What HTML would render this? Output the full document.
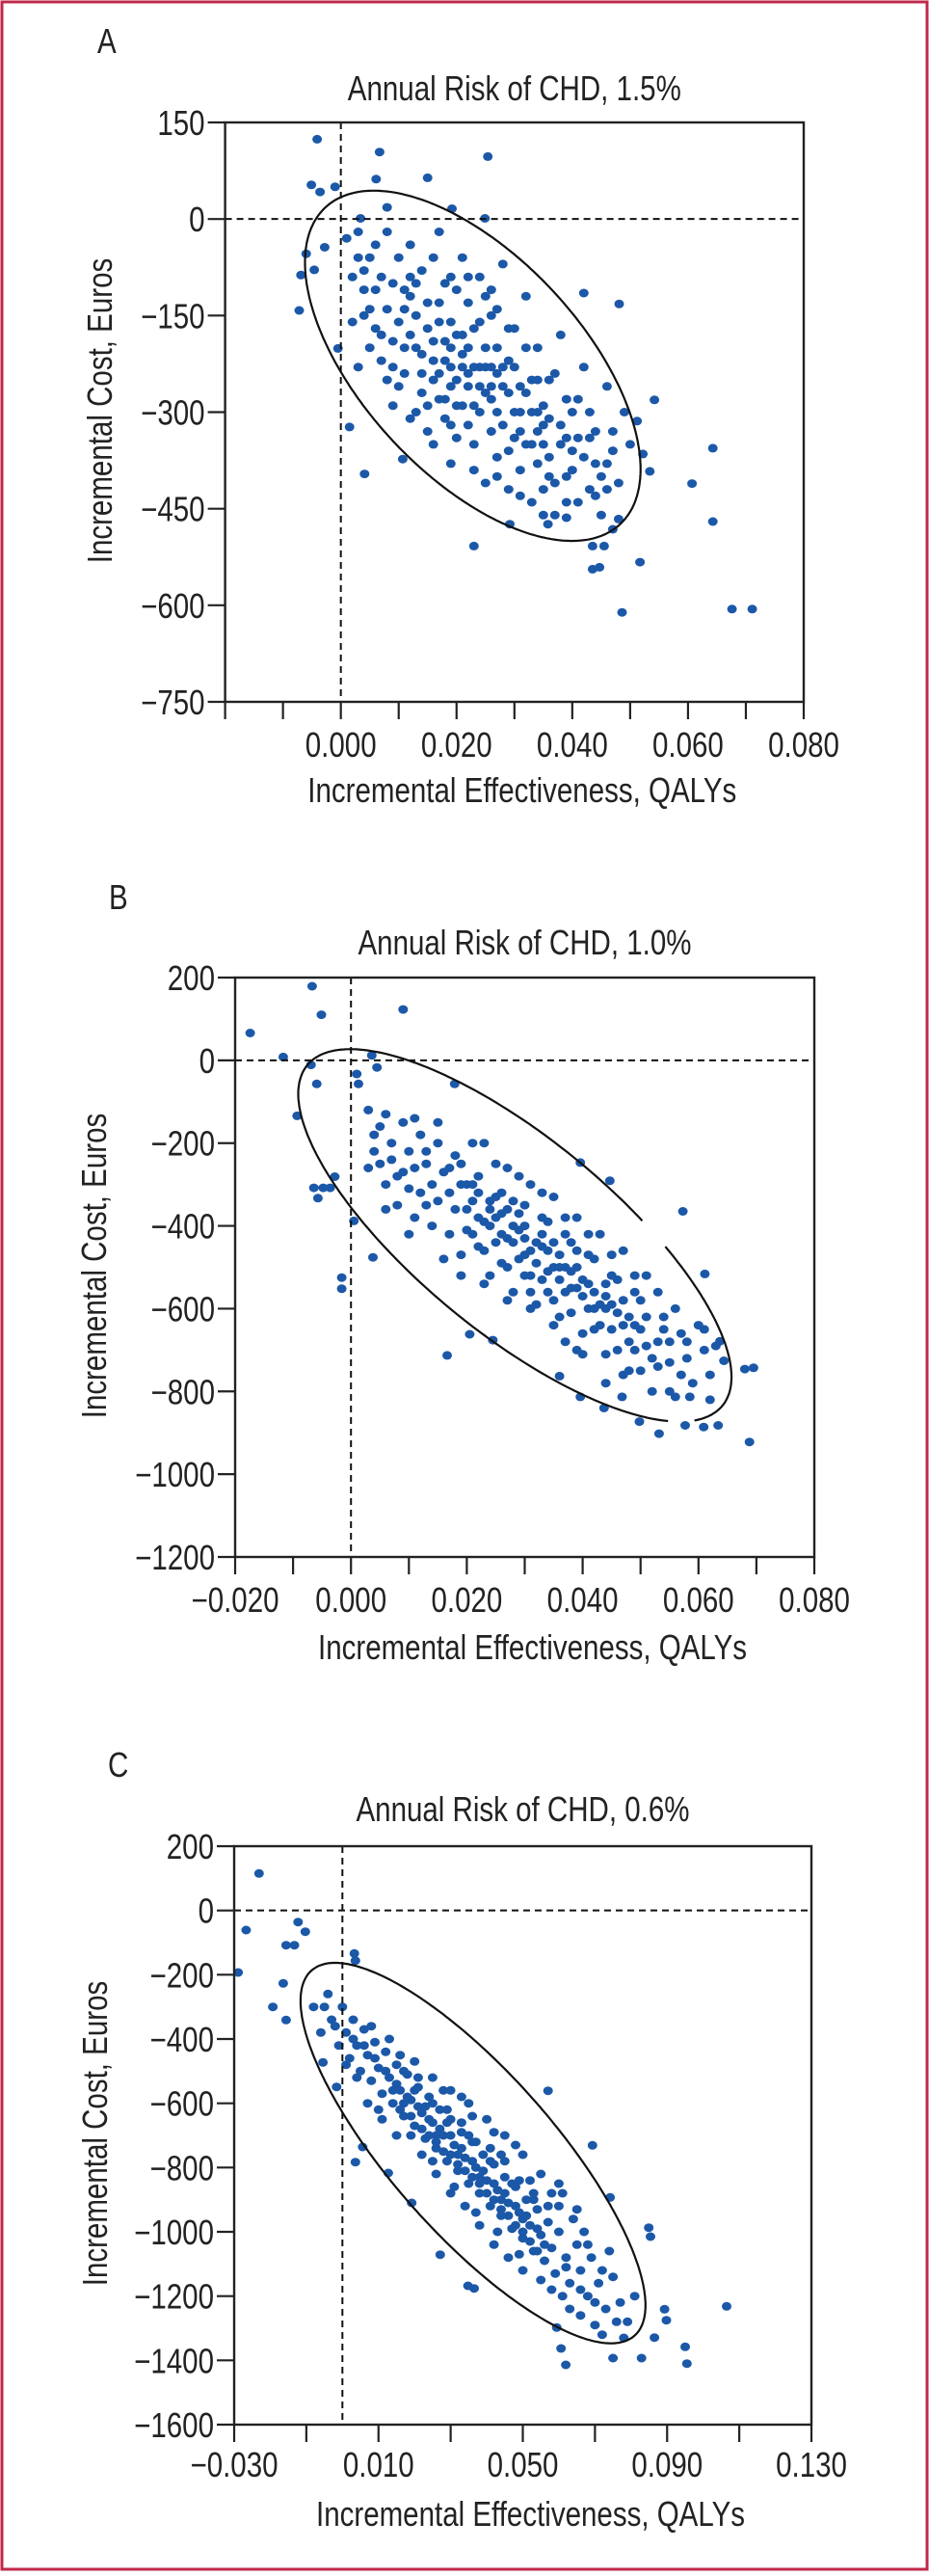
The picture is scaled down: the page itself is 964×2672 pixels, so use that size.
<!DOCTYPE html>
<html><head><meta charset="utf-8"><style>
html,body{margin:0;padding:0;background:#fff}
svg text{font-family:"Liberation Sans Narrow","Liberation Sans",sans-serif;fill:#222}
</style></head><body>
<svg id="fig" xmlns="http://www.w3.org/2000/svg" width="964" height="2667" viewBox="0 0 964 2667">
<rect x="2" y="2" width="960" height="2663" fill="none" stroke="#c0284a" stroke-width="3"/>
</svg>
<script>
const xTicksA=[-0.02,-0.01,0,0.01,0.02,0.03,0.04,0.05,0.06,0.07,0.08];
const xLabelsA=["0.000","0.020","0.040","0.060","0.080"];
const xLabelValsA=[0,0.02,0.04,0.06,0.08];
const yTicksA=[150,0,-150,-300,-450,-600,-750];
const yLabelsA=["150","0","\u2212150","\u2212300","\u2212450","\u2212600","\u2212750"];
const pointsA=[[-0.0041,124],[0.0067,104],[0.0254,97],[0.015,64],[0.0061,62],[-0.0051,53],[-0.0036,42],[-0.001,50],[0.0192,16],[0.0249,1],[0.008,18],[0.0034,1],[0.042,-115],[0.0481,-132],[0.0542,-281],[0.0643,-356],[0.0607,-411],[0.0643,-470],[0.0517,-533],[0.0435,-508],[0.0455,-508],[0.0435,-544],[0.0447,-541],[0.0486,-611],[0.0676,-606],[0.0711,-606],[0.023,-508],[0.0041,-396],[-0.0072,-142],[0.0534,-392],[0.0522,-365],[0.0512,-314],[0.048,-466],[0.047,-482],[0.039,-464],[0.0358,-474],[0.0292,-474],[0.0107,-373],[0.0015,-323],[-0.0005,-201],[-0.0069,-87],[-0.0046,-79],[-0.0028,-44],[-0.006,-54],
[0.001,-30],[0.003,-60],[0.004,-110],[0.002,-160],[0.005,-200],[0.006,-40],[0.007,-90],[0.008,-140],[0.006,-170],[0.009,-230],[0.010,-60],[0.011,-110],[0.012,-180],[0.010,-260],[0.013,-300],[0.012,-40],[0.014,-80],[0.015,-130],[0.014,-210],[0.016,-250],[0.015,-330],[0.017,-20],[0.018,-100],[0.017,-160],[0.019,-200],[0.018,-280],[0.020,-340],[0.019,-380],[0.021,-60],[0.022,-130],[0.021,-180],[0.023,-230],[0.022,-260],[0.024,-300],[0.023,-350],[0.025,-410],[0.024,-90],[0.026,-150],[0.025,-200],[0.027,-240],[0.026,-280],[0.028,-320],[0.027,-370],[0.029,-420],[0.028,-70],[0.030,-170],[0.029,-220],[0.031,-260],[0.030,-300],[0.032,-350],[0.031,-390],[0.033,-440],[0.032,-120],[0.034,-200],[0.033,-250],[0.035,-290],[0.034,-330],[0.036,-370],[0.035,-420],[0.037,-460],[0.038,-180],[0.037,-240],[0.039,-280],[0.038,-320],[0.040,-360],[0.039,-400],[0.041,-440],[0.042,-230],[0.043,-300],[0.041,-340],[0.044,-380],[0.043,-420],[0.045,-460],[0.046,-260],[0.047,-330],[0.046,-380],[0.048,-410],[0.049,-300],[0.050,-350],[0.016,-190],[0.018,-220],[0.020,-180],[0.020,-250],[0.022,-200],[0.024,-230],[0.026,-230],[0.019,-160],[0.017,-240],[0.021,-290],[0.025,-270],[0.027,-200],[0.023,-170],[0.013,-150],[0.011,-200],[0.009,-100],[0.007,-180],[0.004,-80],[0.003,-20],[0.008,-20],[0.012,-90],[0.016,-60],[0.020,-110],[0.024,-160],[0.028,-260],[0.031,-330],[0.033,-300],[0.035,-350],[0.029,-360],[0.026,-330],[0.022,-320],[0.018,-310],[0.014,-270],[0.011,-240],[0.008,-250],[0.005,-140],[0.036,-250],[0.040,-300],[0.042,-370],[0.044,-330],[0.037,-410],[0.034,-380],[0.030,-230],[0.027,-140],[0.025,-120],[0.021,-230],[0.019,-260],[0.015,-170],[0.012,-120],
[0.013,-200],[0.014,-240],[0.016,-220],[0.017,-280],[0.018,-190],[0.019,-230],[0.020,-290],[0.021,-210],[0.022,-240],[0.023,-290],[0.024,-260],[0.025,-230],[0.026,-260],[0.027,-300],[0.028,-230],[0.029,-270],[0.030,-340],[0.031,-300],[0.032,-270],[0.033,-350],[0.034,-300],[0.035,-320],[0.036,-400],[0.038,-350],[0.040,-390],[0.041,-280],[0.045,-400],[0.047,-360],[0.044,-430],[0.010,-160],[0.009,-190],[0.011,-140],[0.013,-100],[0.006,-110],[0.004,-150],[0.002,-90],[0.005,-60],[0.017,-130],[0.019,-90],[0.022,-90],[0.026,-110],[0.029,-170],[0.032,-200],[0.034,-250],[0.036,-310],[0.039,-340],[0.043,-340],[0.046,-420],[0.015,-290],[0.016,-350],[0.019,-320],[0.023,-390],[0.027,-400],[0.031,-430],[0.035,-460],[0.039,-440],[0.012,-310],[0.009,-290],[0.007,-220],[0.003,-230]];
const ellipseA=[0.0228,-228,0.029,272,-0.59];

const xTicksB=[-0.02,-0.01,0,0.01,0.02,0.03,0.04,0.05,0.06,0.07,0.08];
const xLabelsB=["\u22120.020","0.000","0.020","0.040","0.060","0.080"];
const xLabelValsB=[-0.02,0,0.02,0.04,0.06,0.08];
const yTicksB=[200,0,-200,-400,-600,-800,-1000,-1200];
const yLabelsB=["200","0","\u2212200","\u2212400","\u2212600","\u2212800","\u22121000","\u22121200"];
const pointsB=[[-0.0067,179],[-0.0051,110],[0.009,123],[-0.0174,66],[-0.0117,8],[-0.0069,-11],[-0.0059,-57],[-0.0093,-134],[-0.0064,-308],[-0.0048,-308],[-0.0036,-308],[-0.0057,-333],[-0.0028,-281],[-0.0016,-525],[-0.0016,-552],[0.0038,-476],[0.0005,-388],[0.0573,-365],[0.0611,-516],[0.0695,-743],[0.068,-746],[0.0634,-882],[0.0609,-886],[0.0577,-882],[0.0688,-922],[0.0532,-902],[0.0498,-873],[0.0166,-713],[0.0205,-662],[0.0245,-676],[0.036,-763],[0.0396,-813],[0.0437,-840],[0.0468,-813],[0.056,-813],[0.0585,-813],[0.0644,-726],[0.0637,-679],[0.0447,-291],[0.0396,-247],[0.0179,-57],[0.001,-33],[0.0045,-17],[0.0036,12],[0.0013,-57],
[0.003,-120],[0.004,-180],[0.005,-250],[0.006,-300],[0.006,-130],[0.007,-200],[0.008,-280],[0.008,-350],[0.009,-150],[0.010,-220],[0.010,-310],[0.011,-380],[0.012,-180],[0.013,-250],[0.012,-320],[0.014,-400],[0.015,-200],[0.016,-270],[0.015,-340],[0.017,-420],[0.016,-480],[0.018,-230],[0.019,-300],[0.018,-360],[0.020,-410],[0.019,-470],[0.021,-200],[0.022,-280],[0.021,-340],[0.023,-390],[0.022,-450],[0.024,-520],[0.025,-250],[0.026,-320],[0.025,-380],[0.027,-430],[0.026,-490],[0.028,-560],[0.029,-280],[0.030,-350],[0.029,-410],[0.031,-460],[0.030,-520],[0.032,-590],[0.033,-320],[0.034,-390],[0.033,-450],[0.035,-500],[0.034,-560],[0.036,-620],[0.037,-380],[0.038,-440],[0.037,-500],[0.039,-550],[0.038,-610],[0.040,-660],[0.041,-420],[0.042,-480],[0.041,-540],[0.043,-590],[0.042,-650],[0.044,-710],[0.045,-470],[0.046,-530],[0.045,-590],[0.047,-640],[0.046,-700],[0.048,-750],[0.049,-520],[0.050,-580],[0.049,-640],[0.051,-690],[0.050,-750],[0.052,-800],[0.053,-560],[0.054,-620],[0.053,-680],[0.055,-730],[0.056,-600],[0.057,-660],[0.058,-720],[0.059,-780],[0.060,-640],[0.061,-700],[0.062,-760],[0.063,-690],[0.020,-360],[0.022,-380],[0.024,-400],[0.026,-420],[0.028,-440],[0.030,-470],[0.032,-490],[0.034,-510],[0.036,-530],[0.038,-550],[0.040,-570],[0.042,-600],[0.024,-340],[0.027,-360],[0.030,-400],[0.033,-420],[0.036,-470],[0.039,-500],[0.023,-460],[0.027,-500],[0.031,-560],[0.035,-440],[0.039,-460],[0.044,-540],[0.047,-580],[0.043,-640],[0.040,-710],[0.037,-680],[0.048,-680],[0.051,-620],[0.011,-260],[0.014,-300],[0.017,-320],[0.013,-220],[0.009,-270],[0.007,-240],[0.004,-220],[0.019,-250],[0.028,-340],[0.031,-520],[0.035,-580],[0.044,-600],[0.055,-680],[0.057,-760],[0.052,-720],
[0.020,-300],[0.022,-320],[0.024,-360],[0.026,-370],[0.028,-400],[0.030,-430],[0.032,-440],[0.034,-460],[0.036,-500],[0.038,-510],[0.040,-530],[0.042,-560],[0.044,-570],[0.046,-610],[0.048,-620],[0.050,-650],[0.021,-420],[0.025,-440],[0.029,-480],[0.033,-530],[0.037,-560],[0.041,-600],[0.045,-650],[0.049,-700],[0.053,-740],[0.017,-260],[0.021,-300],[0.025,-330],[0.029,-370],[0.033,-380],[0.037,-420],[0.041,-470],[0.045,-520],[0.049,-560],[0.054,-650],[0.058,-680],[0.061,-650],[0.062,-820],[0.055,-800],[0.047,-760],[0.044,-780],[0.039,-700],[0.035,-640],[0.031,-600],[0.027,-580],[0.023,-540],[0.019,-520],[0.013,-350],[0.010,-420],[0.006,-360],[0.003,-260],[0.005,-160],[0.011,-140],[0.015,-150],[0.023,-200],[0.027,-260],[0.031,-300],[0.035,-330],[0.039,-380],[0.043,-420],[0.047,-460],[0.051,-520]];
const ellipseB=[0.0283,-423,0.0374,450,-0.76];
const gapsB=[[0.0519,-425],[0.0570,-846]];

const xTicksC=[-0.03,-0.01,0.01,0.03,0.05,0.07,0.09,0.11,0.13];
const xLabelsC=["\u22120.030","0.010","0.050","0.090","0.130"];
const xLabelValsC=[-0.03,0.01,0.05,0.09,0.13];
const yTicksC=[200,0,-200,-400,-600,-800,-1000,-1200,-1400,-1600];
const yLabelsC=["200","0","\u2212200","\u2212400","\u2212600","\u2212800","\u22121000","\u22121200","\u22121400","\u22121600"];
const pointsC=[[-0.0231,115],[-0.0267,-61],[-0.0289,-193],[-0.0123,-36],[-0.0103,-66],[-0.0156,-108],[-0.0133,-108],[-0.0164,-227],[-0.0193,-300],[-0.0156,-341],[0.0033,-134],[0.0036,-156],[0.0056,-736],[0.0036,-783],[0.057,-561],[0.0693,-731],[0.0742,-893],[0.0849,-987],[0.0854,-1015],[0.1065,-1232],[0.0893,-1241],[0.0898,-1275],[0.095,-1358],[0.0955,-1410],[0.0865,-1329],[0.0829,-1393],[0.075,-1393],[0.0619,-1414],[0.0606,-1363],[0.0594,-1298],[0.0271,-1071],[0.0348,-1168],[0.0365,-1176],[0.0192,-910],[0.0127,-817],[-0.0016,-549],[-0.0054,-473],
[-0.008,-300],[-0.006,-380],[-0.004,-260],[-0.003,-340],[-0.001,-420],[0.000,-300],[0.001,-380],[0.002,-460],[0.003,-340],[0.004,-420],[0.005,-500],[0.006,-370],[0.007,-450],[0.008,-530],[0.009,-410],[0.010,-490],[0.011,-570],[0.012,-440],[0.013,-520],[0.014,-600],[0.015,-480],[0.016,-560],[0.017,-640],[0.018,-510],[0.019,-590],[0.020,-670],[0.021,-550],[0.022,-630],[0.023,-710],[0.024,-580],[0.025,-660],[0.026,-740],[0.027,-620],[0.028,-700],[0.029,-780],[0.030,-650],[0.031,-730],[0.032,-810],[0.033,-690],[0.034,-770],[0.035,-850],[0.036,-720],[0.037,-800],[0.038,-880],[0.039,-760],[0.040,-840],[0.041,-920],[0.042,-790],[0.043,-870],[0.044,-950],[0.045,-830],[0.046,-910],[0.047,-990],[0.048,-860],[0.049,-940],[0.050,-1020],[0.051,-900],[0.052,-980],[0.053,-1060],[0.054,-930],[0.055,-1010],[0.056,-1090],[0.057,-970],[0.058,-1050],[0.059,-1130],[0.060,-1000],[0.062,-1080],[0.063,-1160],[0.065,-1040],[0.066,-1120],[0.068,-1200],[0.069,-1080],[0.071,-1160],[0.073,-1240],[0.075,-1140],[0.077,-1220],[0.079,-1280],[0.081,-1200],[0.015,-540],[0.018,-580],[0.021,-610],[0.024,-650],[0.027,-680],[0.030,-700],[0.033,-740],[0.036,-780],[0.039,-810],[0.042,-850],[0.045,-880],[0.048,-920],[0.051,-950],[0.054,-990],[0.012,-500],[0.016,-620],[0.020,-560],[0.023,-610],[0.026,-700],[0.029,-660],[0.032,-760],[0.035,-700],[0.038,-830],[0.041,-780],[0.044,-900],[0.047,-850],[0.050,-960],[0.053,-900],[0.056,-1040],[0.009,-460],[0.006,-420],[0.003,-400],[0.010,-620],[0.019,-700],[0.025,-780],[0.031,-860],[0.037,-940],[0.043,-1000],[0.049,-1070],[0.055,-1150],[0.061,-1200],[0.020,-470],[0.028,-560],[0.036,-640],[0.044,-760],[0.052,-840],[0.060,-920],[0.067,-1000],
[0.014,-560],[0.017,-600],[0.019,-640],[0.022,-680],[0.024,-700],[0.026,-720],[0.028,-750],[0.030,-760],[0.032,-790],[0.034,-810],[0.036,-830],[0.038,-850],[0.040,-880],[0.042,-900],[0.044,-930],[0.046,-950],[0.048,-980],[0.050,-1000],[0.052,-1030],[0.054,-1060],[0.017,-500],[0.021,-520],[0.025,-600],[0.029,-620],[0.033,-660],[0.037,-720],[0.041,-740],[0.045,-780],[0.049,-840],[0.053,-880],[0.057,-920],[0.022,-760],[0.026,-820],[0.030,-880],[0.034,-920],[0.038,-980],[0.042,-1040],[0.046,-1080],[0.050,-1120],[0.058,-1180],[0.063,-1240],[0.070,-1290],[0.074,-1060],[0.072,-1320],[0.078,-1330],[0.064,-960],[0.061,-880],[0.007,-600],[0.004,-520],[0.001,-480],[-0.002,-360],[-0.005,-300],[0.008,-360],[0.013,-400],[0.016,-450],[0.011,-650],[0.015,-700],[0.066,-1180],[0.070,-1220],
[0.030,-560],[0.035,-600],[0.040,-650],[0.045,-700],[0.050,-760],[0.055,-820],[0.060,-850],[0.065,-930],[0.025,-520],[0.033,-580],[0.042,-690],[0.048,-730],[0.058,-880],[0.068,-1040],[0.072,-1120],[0.062,-1110],[0.066,-1260],[0.076,-1280]];
const ellipseC=[0.0362,-755,0.0478,592,-0.80];

const NS="http://www.w3.org/2000/svg";
const svg=document.getElementById('fig');
const SX=0.82;
function mk(tag,attrs,parent,text){const e=document.createElementNS(NS,tag);for(const k in attrs)e.setAttribute(k,attrs[k]);if(text!==undefined)e.textContent=text;(parent||svg).appendChild(e);return e;}
function txt(x,y,s,anchor,parent,rot){
  const tf=`translate(${x},${y})`+(rot?' rotate(-90)':'')+` scale(${SX},1)`;
  return mk('text',{x:0,y:0,'font-size':36,'text-anchor':anchor,transform:tf},parent,s);
}

function panel(cfg){
  const g=mk('g',{});
  
  
  const sx=v=>cfg.L+(v-cfg.x0)/(cfg.x1-cfg.x0)*(cfg.R-cfg.L);
  const sy=v=>cfg.T+(cfg.y0-v)/(cfg.y0-cfg.y1)*(cfg.B-cfg.T);
  const lab=txt(cfg.letterX,cfg.letterY,cfg.letter,'start',g);
  
  
  const t=txt((cfg.L+cfg.R)/2,cfg.titleY,cfg.title,'middle',g);
  
  
  const dg=mk('g',{fill:'#1c58a8'},g);
  
  
  cfg.points.forEach(p=>{
    const c=mk('ellipse',{cx:sx(p[0]).toFixed(1),cy:sy(p[1]).toFixed(1),rx:5,ry:4.5},dg);
    
    
  });
  const dz=mk('line',{x1:sx(0),x2:sx(0),y1:cfg.T,y2:cfg.B,stroke:'#111','stroke-width':2,'stroke-dasharray':'7,5'},g);
  
  
  const dy=mk('line',{x1:cfg.L,x2:cfg.R,y1:sy(0),y2:sy(0),stroke:'#111','stroke-width':2,'stroke-dasharray':'7,5'},g);
  
  
  const e=cfg.ell;let d='';let pen=false;
  for(let i=0;i<=360;i++){
    const a=i/360*2*Math.PI;
    const vx=e[0]+e[2]*Math.cos(a);
    const vy=e[1]+e[3]*(e[4]*Math.cos(a)+Math.sqrt(1-e[4]*e[4])*Math.sin(a));
    const px=sx(vx),py=sy(vy);
    let skip=false;
    (cfg.gaps||[]).forEach(q=>{if(Math.hypot(px-sx(q[0]),py-sy(q[1]))<16)skip=true;});
    if(skip){pen=false;continue;}
    d+=(pen?'L':'M')+px.toFixed(1)+' '+py.toFixed(1);pen=true;
  }
  const ep=mk('path',{d:d,fill:'none',stroke:'#111','stroke-width':2.2},g);
  
  
  const fr=mk('rect',{x:cfg.L,y:cfg.T,width:cfg.R-cfg.L,height:cfg.B-cfg.T,fill:'none',stroke:'#222','stroke-width':2.4},g);
  
  
  cfg.yTicks.forEach((v,i)=>{
    const y=sy(v);
    const tk=mk('line',{x1:cfg.L-18,x2:cfg.L,y1:y,y2:y,stroke:'#222','stroke-width':2.2},g);
    
    
    const tl=txt(cfg.L-21,y+13,cfg.yLabels[i],'end',g);
    
    
  });
  cfg.xTicks.forEach(v=>{
    const x=sx(v);
    const tk=mk('line',{x1:x,x2:x,y1:cfg.B,y2:cfg.B+18,stroke:'#222','stroke-width':2.2},g);
    
    
  });
  cfg.xLabelVals.forEach((v,i)=>{
    const tl=txt(sx(v),cfg.xLabY,cfg.xLabels[i],'middle',g);
    
    
  });
  const xt=txt((cfg.L+cfg.R)/2+8,cfg.xTitleY,'Incremental Effectiveness, QALYs','middle',g);
  
  
  const yt=txt(cfg.yTitleX,cfg.yTitleY,'Incremental Cost, Euros','middle',g,true);
  
  
}

panel({id:'a',letter:'A',letterX:101,letterY:55,title:'Annual Risk of CHD, 1.5%',titleY:104,
  L:233.6,R:834,T:127,B:728,x0:-0.02,x1:0.08,y0:150,y1:-750,
  xTicks:xTicksA,xLabels:xLabelsA,xLabelVals:xLabelValsA,yTicks:yTicksA,yLabels:yLabelsA,
  points:pointsA,ell:ellipseA,xLabY:785,xTitleY:832,yTitleX:116,yTitleY:426});
panel({id:'b',letter:'B',letterX:113,letterY:943,title:'Annual Risk of CHD, 1.0%',titleY:990,
  L:244,R:845,T:1014,B:1615,x0:-0.02,x1:0.08,y0:200,y1:-1200,
  xTicks:xTicksB,xLabels:xLabelsB,xLabelVals:xLabelValsB,yTicks:yTicksB,yLabels:yLabelsB,
  points:pointsB,ell:ellipseB,gaps:gapsB,xLabY:1672,xTitleY:1721,yTitleX:110,yTitleY:1313});
panel({id:'c',letter:'C',letterX:112,letterY:1843,title:'Annual Risk of CHD, 0.6%',titleY:1889,
  L:243,R:842,T:1915,B:2515,x0:-0.03,x1:0.13,y0:200,y1:-1600,
  xTicks:xTicksC,xLabels:xLabelsC,xLabelVals:xLabelValsC,yTicks:yTicksC,yLabels:yLabelsC,
  points:pointsC,ell:ellipseC,xLabY:2569,xTitleY:2620,yTitleX:111,yTitleY:2213});
</script>
</body></html>
